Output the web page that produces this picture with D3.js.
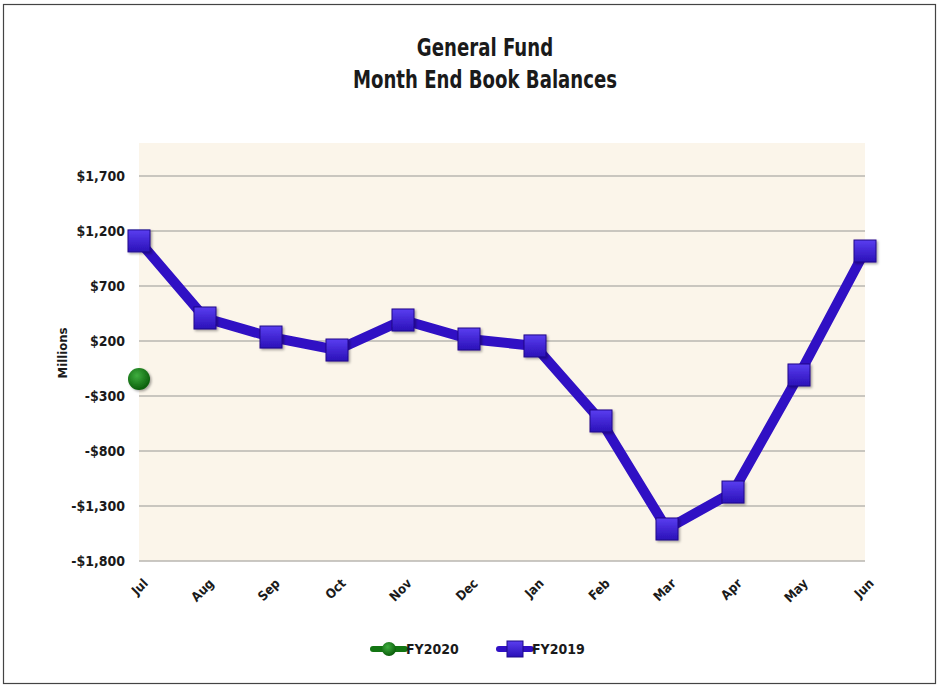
<!DOCTYPE html>
<html>
<head>
<meta charset="utf-8">
<script src="https://cdn.jsdelivr.net/npm/d3@7"></script>
<style>
  body { margin: 0; background: #fff; }
  text { font-family: "Liberation Sans Narrow", "DejaVu Sans Condensed", "Arial Narrow", sans-serif; font-weight: bold; fill: #1a1a1a; }
</style>
</head>
<body>
<div id="chart"></div>
<script>
const months = ["Jul", "Aug", "Sep", "Oct", "Nov", "Dec", "Jan", "Feb", "Mar", "Apr", "May", "Jun"];
const fy2019 = [1110, 409, 236, 118, 391, 218, 155, -527, -1509, -1173, -109, 1018];
const fy2020 = [-145];
const yTicks = [-1800, -1300, -800, -300, 200, 700, 1200, 1700];

const width = 939;
const height = 688;
const margin = { top: 143, right: 74, bottom: 127, left: 139 };

const svg = d3.select("#chart")
  .append("svg")
  .attr("width", width)
  .attr("height", height);

const defs = svg.append("defs");

const sq = defs.append("linearGradient").attr("id", "sqGrad")
  .attr("x1", 0).attr("y1", 0).attr("x2", 0).attr("y2", 1);
sq.append("stop").attr("offset", "0%").attr("stop-color", "#5a3ef0");
sq.append("stop").attr("offset", "100%").attr("stop-color", "#2a10b8");

const ball = defs.append("radialGradient").attr("id", "ballGrad")
  .attr("cx", "40%").attr("cy", "35%").attr("r", "65%");
ball.append("stop").attr("offset", "0%").attr("stop-color", "#3fae3f");
ball.append("stop").attr("offset", "100%").attr("stop-color", "#0b5e0b");

const shadow = defs.append("filter").attr("id", "shadow")
  .attr("x", "-30%").attr("y", "-30%").attr("width", "170%").attr("height", "170%");
shadow.append("feDropShadow").attr("dx", 1.5).attr("dy", 1.5)
  .attr("stdDeviation", 1.2).attr("flood-color", "#000").attr("flood-opacity", 0.35);

// outer frame
svg.append("rect")
  .attr("x", 3.5).attr("y", 4.5)
  .attr("width", 932).attr("height", 679)
  .attr("fill", "none").attr("stroke", "#444").attr("stroke-width", 1.2);

const x = d3.scalePoint()
  .domain(months)
  .range([margin.left, width - margin.right]);

const y = d3.scaleLinear()
  .domain([-1800, 2000])
  .range([height - margin.bottom, margin.top]);

// plot background
svg.append("rect")
  .attr("x", margin.left)
  .attr("y", margin.top)
  .attr("width", width - margin.right - margin.left)
  .attr("height", height - margin.bottom - margin.top)
  .attr("fill", "#fbf5ea");

// gridlines
svg.append("g")
  .selectAll("line")
  .data(yTicks)
  .join("line")
  .attr("x1", margin.left)
  .attr("x2", width - margin.right)
  .attr("y1", d => y(d))
  .attr("y2", d => y(d))
  .attr("stroke", "#b9b6b1")
  .attr("stroke-width", 1.5);

// y axis
const yAxis = svg.append("g")
  .attr("transform", `translate(${margin.left},0)`)
  .call(d3.axisLeft(y).tickValues(yTicks).tickSize(0).tickPadding(14)
    .tickFormat(d => (d < 0 ? "-$" : "$") + d3.format(",")(Math.abs(d))));
yAxis.select(".domain").remove();
yAxis.selectAll("text").style("font-size", "14px");

// x axis
const xAxis = svg.append("g")
  .attr("transform", `translate(0,${height - margin.bottom})`)
  .call(d3.axisBottom(x).tickSize(0).tickPadding(0));
xAxis.select(".domain").remove();
xAxis.selectAll("text")
  .style("font-size", "13px")
  .attr("text-anchor", "end")
  .attr("dy", "0.35em")
  .attr("transform", "translate(6,20) rotate(-45)");

// title (condensed look)
const titleG = svg.append("g").attr("transform", "translate(485,0) scale(0.84,1)");
titleG.append("text")
  .attr("x", 0).attr("y", 56)
  .attr("text-anchor", "middle")
  .style("font-size", "24px")
  .text("General Fund");
titleG.append("text")
  .attr("x", 0).attr("y", 88)
  .attr("text-anchor", "middle")
  .style("font-size", "24px")
  .text("Month End Book Balances");

// y label
svg.append("text")
  .attr("transform", "translate(67,353) rotate(-90)")
  .attr("text-anchor", "middle")
  .style("font-size", "13px")
  .text("Millions");

// FY2019 line
const line = d3.line()
  .x((d, i) => x(months[i]))
  .y(d => y(d));

svg.append("path")
  .datum(fy2019)
  .attr("d", line)
  .attr("fill", "none")
  .attr("stroke", "#3010c4")
  .attr("stroke-width", 10)
  .attr("stroke-linejoin", "round");

const s = 22;
svg.append("g")
  .selectAll("rect")
  .data(fy2019)
  .join("rect")
  .attr("x", (d, i) => x(months[i]) - s / 2)
  .attr("y", d => y(d) - s / 2)
  .attr("width", s)
  .attr("height", s)
  .attr("fill", "url(#sqGrad)")
  .attr("stroke", "#1e0a8a")
  .attr("stroke-width", 1)
  .attr("filter", "url(#shadow)");

// FY2020 points
svg.append("g")
  .selectAll("circle")
  .data(fy2020)
  .join("circle")
  .attr("cx", (d, i) => x(months[i]))
  .attr("cy", d => y(d))
  .attr("r", 11)
  .attr("fill", "url(#ballGrad)")
  .attr("filter", "url(#shadow)");

// legend
const legendData = [
  { name: "FY2020", color: "#127512", x: 373, shape: "circle" },
  { name: "FY2019", color: "#3010c4", x: 499, shape: "square" }
];
const ly = 649;
const legend = svg.append("g");
legendData.forEach(d => {
  const g = legend.append("g");
  g.append("line")
    .attr("x1", d.x).attr("x2", d.x + 32)
    .attr("y1", ly).attr("y2", ly)
    .attr("stroke", d.color).attr("stroke-width", 6)
    .attr("stroke-linecap", "round");
  if (d.shape === "circle") {
    g.append("circle").attr("cx", d.x + 16).attr("cy", ly).attr("r", 7)
      .attr("fill", "url(#ballGrad)");
  } else {
    g.append("rect").attr("x", d.x + 8).attr("y", ly - 8)
      .attr("width", 16).attr("height", 16)
      .attr("fill", "url(#sqGrad)").attr("stroke", "#1e0a8a");
  }
  g.append("text")
    .attr("x", d.x + 33).attr("y", ly + 5)
    .style("font-size", "14px")
    .text(d.name);
});
</script>
</body>
</html>
